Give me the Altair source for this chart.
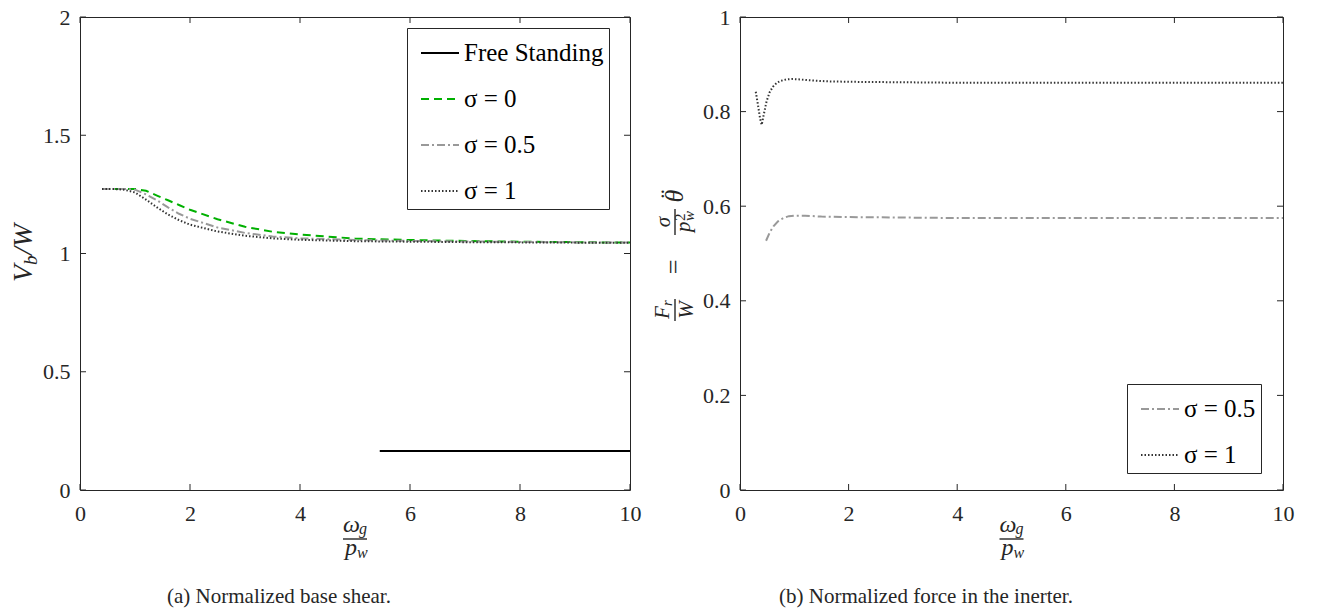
import altair as alt
import pandas as pd

FONT = "Liberation Serif"
INK = "#262626"

# ---------------- data ----------------
x_ticks = [0, 2, 4, 6, 8, 10]
y_ticks_left = [0, 0.5, 1, 1.5, 2]
y_ticks_right = [0, 0.2, 0.4, 0.6, 0.8, 1]

x_left = [0.4, 0.6, 0.8, 1.0, 1.2, 1.4, 1.6, 1.8, 2.0, 2.5, 3.0, 3.5, 4.0, 5.0, 6.0, 7.0, 8.0, 9.0, 10.0]
vb_sigma0 = [1.273, 1.273, 1.273, 1.273, 1.265, 1.245, 1.225, 1.205, 1.185, 1.145, 1.113, 1.092, 1.080, 1.063, 1.057, 1.053, 1.050, 1.048, 1.046]
vb_sigma05 = [1.273, 1.273, 1.273, 1.270, 1.250, 1.225, 1.195, 1.168, 1.147, 1.110, 1.087, 1.072, 1.064, 1.057, 1.053, 1.051, 1.049, 1.047, 1.046]
vb_sigma1 = [1.273, 1.273, 1.270, 1.258, 1.228, 1.195, 1.165, 1.141, 1.122, 1.093, 1.075, 1.064, 1.058, 1.052, 1.050, 1.048, 1.047, 1.046, 1.045]
free_x = [5.45, 10.0]
free_y = [0.165, 0.165]

x_r05 = [0.48, 0.55, 0.62, 0.70, 0.80, 0.90, 1.0, 1.2, 1.5, 2.0, 3.0, 4.0, 6.0, 8.0, 10.0]
fr_sigma05 = [0.527, 0.545, 0.558, 0.568, 0.575, 0.579, 0.580, 0.580, 0.578, 0.577, 0.576, 0.575, 0.575, 0.575, 0.575]
x_r1 = [0.29, 0.33, 0.37, 0.40, 0.44, 0.49, 0.55, 0.61, 0.68, 0.75, 0.85, 0.95, 1.1, 1.3, 1.6, 2.0, 3.0, 4.0, 6.0, 8.0, 10.0]
fr_sigma1 = [0.842, 0.815, 0.785, 0.772, 0.795, 0.822, 0.842, 0.853, 0.861, 0.865, 0.868, 0.869, 0.868, 0.866, 0.864, 0.863, 0.862, 0.861, 0.861, 0.861, 0.861]

left_names = ["Free Standing", "σ = 0", "σ = 0.5", "σ = 1"]
left_colors = ["#000000", "#00b000", "#999999", "#333333"]
left_dashes = [[1, 0], [8, 5], [8, 3, 2, 3], [1.5, 2]]
right_names = ["σ = 0.5", "σ = 1"]
right_colors = ["#999999", "#333333"]
right_dashes = [[8, 3, 2, 3], [1.5, 2]]

caption_a = "(a) Normalized base shear."
caption_b = "(b) Normalized force in the inerter."

# ---------------- tables ----------------
rows = []
for name, xs, ys in [(left_names[0], free_x, free_y),
                     (left_names[1], x_left, vb_sigma0),
                     (left_names[2], x_left, vb_sigma05),
                     (left_names[3], x_left, vb_sigma1)]:
    for xv, yv in zip(xs, ys):
        rows.append({"series": name, "x": xv, "y": yv})
df_left = pd.DataFrame(rows)

rows = []
for name, xs, ys in [(right_names[0], x_r05, fr_sigma05),
                     (right_names[1], x_r1, fr_sigma1)]:
    for xv, yv in zip(xs, ys):
        rows.append({"series": name, "x": xv, "y": yv})
df_right = pd.DataFrame(rows)

one = pd.DataFrame({"a": [0]})

W_L, W_R, H = 550, 543, 473


def text(s, x, y, size, italic=False, angle=0, align="center", baseline="middle", font=FONT):
    return alt.Chart(one).mark_text(
        fontSize=size, font=font, fontStyle="italic" if italic else "normal",
        angle=angle, align=align, baseline=baseline, color=INK
    ).encode(x=alt.value(x), y=alt.value(y), text=alt.value(s))


def hline(x1, x2, y, w=1.4):
    return alt.Chart(one).mark_rule(color=INK, strokeWidth=w).encode(
        x=alt.value(x1), x2=alt.value(x2), y=alt.value(y))


def vline(x, y1, y2, w=1.4):
    return alt.Chart(one).mark_rule(color=INK, strokeWidth=w).encode(
        x=alt.value(x), y=alt.value(y1), y2=alt.value(y2))


def axis(vals, pad):
    return alt.Axis(values=vals, format=".1~f", title=None, ticks=False, domain=False,
                    grid=False, labelFont=FONT, labelFontSize=22, labelColor=INK,
                    labelPadding=pad, labelFlush=False, labelOverlap=False)


def ticks(ydom, yvals, W, L=6):
    xs = alt.Scale(domain=[0, 10], nice=False)
    ys = alt.Scale(domain=ydom, nice=False)
    xdf = pd.DataFrame({"x": x_ticks})
    ydf = pd.DataFrame({"y": yvals})
    base_x = alt.Chart(xdf).mark_rule(color=INK, strokeWidth=1)
    base_y = alt.Chart(ydf).mark_rule(color=INK, strokeWidth=1)
    ax_x = axis(x_ticks, 13)
    ax_y = axis(yvals, 10)
    return [
        base_x.encode(x=alt.X("x:Q", scale=xs, axis=ax_x), y=alt.value(H), y2=alt.value(H - L)),
        base_x.encode(x=alt.X("x:Q", scale=xs, axis=ax_x), y=alt.value(0), y2=alt.value(L)),
        base_y.encode(y=alt.Y("y:Q", scale=ys, axis=ax_y), x=alt.value(0), x2=alt.value(L)),
        base_y.encode(y=alt.Y("y:Q", scale=ys, axis=ax_y), x=alt.value(W), x2=alt.value(W - L)),
    ]


def legend(lx, ly):
    return alt.Legend(title=None, orient="none", legendX=lx, legendY=ly, symbolType="stroke",
                      symbolSize=1444, symbolStrokeWidth=2, symbolOffset=8, labelFont=FONT,
                      labelFontSize=25, labelColor="black", labelOffset=4, padding=5,
                      rowPadding=13, strokeColor=INK, fillColor="white")


def lines(df, names, colors, dashes, ydom, yvals, lx, ly):
    leg = legend(lx, ly)
    return alt.Chart(df).mark_line(strokeWidth=2).encode(
        x=alt.X("x:Q", scale=alt.Scale(domain=[0, 10], nice=False), axis=axis(x_ticks, 13)),
        y=alt.Y("y:Q", scale=alt.Scale(domain=ydom, nice=False), axis=axis(yvals, 10)),
        color=alt.Color("series:N", scale=alt.Scale(domain=names, range=colors), legend=leg),
        strokeDash=alt.StrokeDash("series:N", scale=alt.Scale(domain=names, range=dashes), legend=leg),
    )


def x_title(cx):
    return [
        text("ω", cx - 12, 515, 24, italic=True, align="left", baseline="alphabetic"),
        text("g", cx + 4, 517, 16, italic=True, align="left", baseline="alphabetic"),
        hline(cx - 12, cx + 12, 522),
        text("p", cx - 10, 538, 24, italic=True, align="left", baseline="alphabetic"),
        text("w", cx + 2, 541, 16, italic=True, align="left", baseline="alphabetic"),
    ]


# ---------------- left panel ----------------
left_title = [
    text("V", -48, 265, 28, italic=True, angle=270, align="left", baseline="alphabetic"),
    text("b", -43, 248, 19, italic=True, angle=270, align="left", baseline="alphabetic"),
    text("/W", -48, 238, 28, italic=True, angle=270, align="left", baseline="alphabetic"),
]

left = alt.layer(
    lines(df_left, left_names, left_colors, left_dashes, [0, 2], y_ticks_left, 327, 11),
    *ticks([0, 2], y_ticks_left, W_L),
    *left_title,
    *x_title(W_L / 2),
    text(caption_a, 199, 580, 21),
).properties(width=W_L, height=H)

# ---------------- right panel ----------------
LX = -65
right_title = [
    # F_r / W
    text("F", LX - 6, 302, 21, italic=True, angle=270, align="left", baseline="alphabetic"),
    text("r", LX - 3, 289, 15, italic=True, angle=270, align="left", baseline="alphabetic"),
    vline(LX, 282, 304),
    text("W", LX + 18, 293, 21, italic=True, angle=270, align="center", baseline="alphabetic"),
    # =
    text("=", LX + 7, 250, 26, angle=270, align="center", baseline="alphabetic"),
    # sigma / p_w^2
    text("σ", LX - 5, 205, 21, italic=True, angle=270, align="center", baseline="alphabetic"),
    vline(LX, 192, 218),
    text("p", LX + 15, 215, 21, italic=True, angle=270, align="left", baseline="alphabetic"),
    text("w", LX + 19, 204, 15, italic=True, angle=270, align="left", baseline="alphabetic"),
    text("2", LX + 10, 204, 15, angle=270, align="left", baseline="alphabetic"),
    # theta with double dot
    text("θ", LX + 8, 179, 26, italic=True, angle=270, align="center", baseline="alphabetic"),
    text("¨", LX + 3, 177, 26, angle=270, align="center", baseline="alphabetic"),
]

right = alt.layer(
    lines(df_right, right_names, right_colors, right_dashes, [0, 1], y_ticks_right, 387, 367),
    *ticks([0, 1], y_ticks_right, W_R),
    *right_title,
    *x_title(W_R / 2),
    text(caption_b, 186, 580, 21),
).properties(width=W_R, height=H)

chart = alt.hconcat(left, right, spacing=110, bounds="flush").resolve_scale(
    color="independent", strokeDash="independent"
).resolve_legend(color="independent", strokeDash="independent").properties(
    autosize=alt.AutoSizeParams(type="none"),
    padding={"left": 72, "top": 9, "right": 1218, "bottom": 586},
).configure_view(stroke=INK, strokeWidth=1)

chart.save("out.html", embed_options={"renderer": "svg", "actions": False})
